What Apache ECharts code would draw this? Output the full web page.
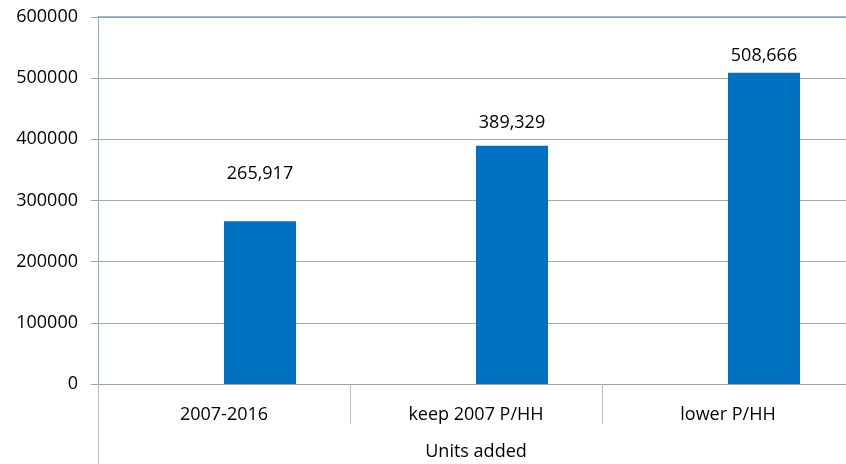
<!DOCTYPE html>
<html><head><meta charset="utf-8">
<script src="https://cdn.jsdelivr.net/npm/echarts@6/dist/echarts.min.js"></script>
<style>html,body{margin:0;padding:0;background:#fff}#c{width:846px;height:464px}</style>
</head><body><div id="c"></div>
<script>
const categories = ['2007-2016', 'keep 2007 P/HH', 'lower P/HH'];
const emptySeries = [null, null, null];
const unitsAdded = [265917, 389329, 508666];
const yTicks = [0, 100000, 200000, 300000, 400000, 500000, 600000];
const axisName = 'Units added';
const labelOffsets = [[0, -28], [0, -4], [0, 2]];

const FONT = 'Open Sans';
const chart = echarts.init(document.getElementById('c'), null, {renderer: 'canvas'});
chart.setOption({
  animation: false,
  textStyle: {fontFamily: FONT},
  grid: {left: 98, top: 17, bottom: 80, width: 756, containLabel: false, outerBoundsMode: 'none'},
  xAxis: [{
    type: 'category', data: categories, position: 'bottom',
    boundaryGap: true,
    axisLine: {show: true, lineStyle: {color: '#a0a0a0', width: 1}},
    axisTick: {show: true, interval: 0, length: 40, lineStyle: {color: '#bfbfbf'}},
    axisLabel: {interval: 0, margin: 22, color: '#000', fontSize: 18, fontFamily: FONT},
    name: axisName, nameLocation: 'middle', nameGap: 59,
    nameTextStyle: {color: '#000', fontSize: 18, fontFamily: FONT},
    splitLine: {show: false}
  }, {
    type: 'category', data: categories, position: 'top',
    axisLine: {show: true, lineStyle: {color: '#7f9fc9', width: 1.5}},
    axisTick: {show: false}, axisLabel: {show: false}
  }],
  yAxis: {
    type: 'value', min: 0, max: 600000, interval: 100000,
    axisLine: {show: true, lineStyle: {color: '#9aa8bc', width: 1}},
    axisTick: {show: true, length: 7, lineStyle: {color: '#a0a0a0'}},
    axisLabel: {margin: 20, color: '#000', fontSize: 18, fontFamily: FONT,
      formatter: v => yTicks.includes(v) ? String(v) : ''},
    splitLine: {show: true, lineStyle: {color: '#a6a6a6', width: 1}}
  },
  series: [{
    type: 'bar', data: emptySeries, barWidth: 72, barGap: '0%'
  }, {
    type: 'bar', data: unitsAdded.map((v, i) => ({value: v, label: {offset: labelOffsets[i]}})),
    barWidth: 72, barGap: '0%',
    itemStyle: {color: '#0070c0'},
    label: {show: true, position: 'top', distance: 10, color: '#000', fontSize: 18, fontFamily: FONT,
      formatter: p => p.value.toLocaleString('en-US')}
  }],
  graphic: [{
    type: 'line', silent: true,
    shape: {x1: 98.5, y1: 384, x2: 98.5, y2: 464},
    style: {stroke: '#bfbfbf', lineWidth: 1}
  }]
});
</script></body></html>
